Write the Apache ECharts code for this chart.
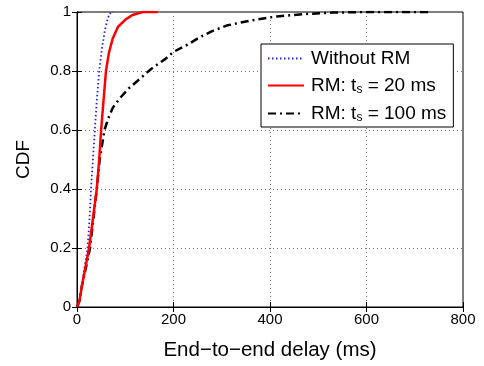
<!DOCTYPE html>
<html>
<head>
<meta charset="utf-8">
<script src="https://cdn.jsdelivr.net/npm/echarts@6/dist/echarts.min.js"></script>
<style>html,body{margin:0;padding:0;background:#fff}#c{width:484px;height:366px}</style>
</head>
<body>
<div id="c"></div>
<script>
const xTicks = [0, 200, 400, 600, 800];
const yTicks = [0, 0.2, 0.4, 0.6, 0.8, 1];
const seriesNames = ['Without RM', 'RM: t_s = 20 ms', 'RM: t_s = 100 ms'];
const withoutRM = [[0,0],[5,0.02],[10,0.07],[15,0.13],[22,0.2],[26,0.3],[29,0.4],[33,0.5],[37,0.6],[41,0.7],[46,0.8],[52,0.88],[58,0.94],[64,0.98],[70,1.0],[75,1.0]];
const rm20 = [[0,0],[5,0.02],[10,0.07],[17,0.13],[25,0.2],[33,0.3],[41,0.4],[46,0.5],[50,0.6],[55,0.7],[60,0.8],[66,0.86],[74,0.91],[85,0.95],[101,0.975],[115,0.99],[136,1.0],[167,1.0]];
const rm100 = [[0,0],[5,0.02],[10,0.07],[18,0.13],[27,0.2],[34,0.3],[41,0.4],[47,0.5],[57,0.6],[65,0.64],[74,0.675],[90,0.71],[108,0.742],[130,0.773],[153,0.806],[184,0.842],[200,0.865],[230,0.89],[255,0.915],[280,0.935],[310,0.954],[359,0.971],[414,0.985],[470,0.993],[530,0.998],[600,1.0],[730,1.0]];

const FONT = 'Liberation Sans, Arial, sans-serif';
const chart = echarts.init(document.getElementById('c'));
const axisCommon = {
  min: 0,
  axisLine: {show: true, lineStyle: {color: '#000', width: 1}},
  axisTick: {show: true, inside: true, length: 5, lineStyle: {color: '#000'}},
};
function legendFmt(name){
  return name.replace('t_s', 't{sub|s}');
}
chart.setOption({
  animation: false,
  grid: {left: 77, right: 21, top: 12, bottom: 54, show: true, borderColor: '#000', borderWidth: 1},
  legend: {
    data: seriesNames,
    orient: 'vertical',
    left: 261, top: 44,
    padding: [5, 7, 3, 6],
    itemGap: 8,
    itemWidth: 36, itemHeight: 19,
    backgroundColor: '#fff',
    borderColor: '#000', borderWidth: 1,
    itemStyle: {opacity: 0},
    formatter: legendFmt,
    textStyle: {fontFamily: FONT, fontSize: 19, color: '#000', padding: [0,0,0,2],
      rich: {sub: {fontFamily: FONT, fontSize: 12, color: '#000', verticalAlign: 'bottom', padding: [9,0,0,0]}}}
  },
  xAxis: [
    Object.assign({}, axisCommon, {
      type: 'value', max: 800, interval: 200, position: 'bottom',
      name: 'End\u2212to\u2212end delay (ms)', nameLocation: 'middle', nameGap: 33,
      nameTextStyle: {fontFamily: FONT, fontSize: 20.5, color: '#000'},
      axisLabel: {fontFamily: FONT, fontSize: 15, color: '#000', margin: 5, formatter: v => xTicks.includes(v) ? String(v) : ''},
      splitLine: {show: true, lineStyle: {color: '#777', type: [1, 3], width: 1}}
    }),
    Object.assign({}, axisCommon, {
      type: 'value', max: 800, interval: 200, position: 'top',
      axisLabel: {show: false}, splitLine: {show: false}
    })
  ],
  yAxis: [
    Object.assign({}, axisCommon, {
      type: 'value', max: 1, interval: 0.2, position: 'left',
      name: 'CDF', nameLocation: 'middle', nameGap: 44, nameRotate: 90,
      nameTextStyle: {fontFamily: FONT, fontSize: 19, color: '#000'},
      axisLabel: {fontFamily: FONT, fontSize: 15, color: '#000', margin: 6,
        formatter: v => { const t = yTicks.find(y => Math.abs(y - v) < 1e-9); return t === undefined ? '' : String(t); }},
      splitLine: {show: true, lineStyle: {color: '#777', type: [1, 3], width: 1}}
    }),
    Object.assign({}, axisCommon, {
      type: 'value', max: 1, interval: 0.2, position: 'right',
      axisLabel: {show: false}, splitLine: {show: false}
    })
  ],
  series: [
    {name: seriesNames[0], type: 'line', data: withoutRM, showSymbol: false, symbol: 'none', z: 3,
     lineStyle: {color: '#2222dd', width: 1.8, type: [1.5, 2.5]}, itemStyle: {color: '#2222dd'}},
    {name: seriesNames[1], type: 'line', data: rm20, showSymbol: false, symbol: 'none', z: 4,
     lineStyle: {color: '#ff0000', width: 2.5, type: 'solid'}, itemStyle: {color: '#ff0000'}},
    {name: seriesNames[2], type: 'line', data: rm100, showSymbol: false, symbol: 'none', z: 2,
     lineStyle: {color: '#000', width: 2.5, type: [8, 4, 2, 4]}, itemStyle: {color: '#000'}}
  ]
});
</script>
</body>
</html>
